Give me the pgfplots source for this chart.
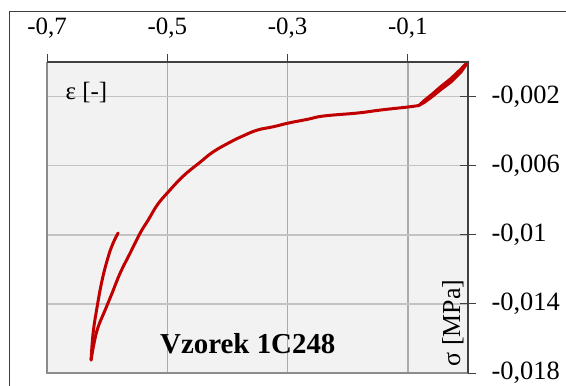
\documentclass[border=0pt]{standalone}
\usepackage{pgfplots}
\pgfplotsset{compat=1.18}
\usepackage{fontspec}
\setmainfont{Liberation Serif}
\definecolor{curve}{HTML}{C00000}
\definecolor{plotbg}{HTML}{F2F2F2}
\definecolor{vgrid}{HTML}{ABABAB}
\definecolor{hgrid}{HTML}{C3C3C3}
\definecolor{frame}{HTML}{404040}
\definecolor{lborder}{HTML}{8C8C8C}
\begin{document}
\begin{tikzpicture}[x=1bp,y=1bp]
\useasboundingbox (0,0) rectangle (566,385);
\draw[color=frame, line width=1bp] (9,373) rectangle (620,-30);
\begin{axis}[
  name=ax,
  at={(47bp,12bp)}, anchor=south west,
  scale only axis, width=421bp, height=311bp,
  xmin=-0.7, xmax=0, ymin=-0.018, ymax=0,
  scaled ticks=false,
  axis line style={draw=none},
  axis background/.style={fill=plotbg},
  xtick={-0.7,-0.5,-0.3,-0.1},
  xticklabels={{-0,7},{-0,5},{-0,3},{-0,1}},
  ytick={-0.002,-0.006,-0.01,-0.014,-0.018},
  yticklabels={{-0,002},{-0,006},{-0,01},{-0,014},{-0,018}},
  xtick pos=upper, xticklabel pos=upper,
  ytick pos=right, yticklabel pos=right,
  tick align=outside, major tick length=8bp,
  tick style={color=frame, line width=1bp},
  xmajorgrids, ymajorgrids,
  x grid style={color=vgrid, line width=1.5bp},
  y grid style={color=hgrid, line width=1.5bp},
  xticklabel style={font=\fontsize{25}{25}\selectfont, text=black, yshift=12bp},
  yticklabel style={font=\fontsize{26.5}{26.5}\selectfont, text=black, xshift=12bp},
  extra y ticks={-0.002,-0.006,-0.01,-0.014,-0.018},
  extra y tick labels={},
  extra y tick style={grid=none, tick align=inside},
  clip=false,
]
% loading/unloading loop near origin
\addplot[color=curve, line width=3bp, line join=round, line cap=round] coordinates {
(0,0) (-0.0117,-0.000579) (-0.0283,-0.001158) (-0.045,-0.001592) (-0.0583,-0.001968) (-0.0717,-0.002315) (-0.0817,-0.002518)
(-0.0717,-0.002199) (-0.0583,-0.001823) (-0.045,-0.001418) (-0.0283,-0.000955) (-0.0117,-0.000405) (-0.0017,-0.000029)
(-0.0117,-0.000579) (-0.0283,-0.001158) (-0.045,-0.001592) (-0.0583,-0.001968) (-0.0717,-0.002315) (-0.0817,-0.002518)
};
% main loading branch
\addplot[color=curve, line width=3bp, line join=round, line cap=round, smooth, tension=0.7] coordinates {
(-0.0817,-0.002518) (-0.1,-0.002605) (-0.145,-0.002778) (-0.1833,-0.002952) (-0.24,-0.003125) (-0.2667,-0.003317)
(-0.2983,-0.003531) (-0.3233,-0.003745) (-0.35,-0.003936) (-0.3733,-0.004266) (-0.395,-0.00463) (-0.4233,-0.005192)
(-0.445,-0.005788) (-0.4733,-0.006598) (-0.5,-0.007582) (-0.5167,-0.008277) (-0.5317,-0.009145)
(-0.545,-0.009897) (-0.5617,-0.011055) (-0.5783,-0.012213) (-0.5917,-0.01337) (-0.6033,-0.014354) (-0.615,-0.015338)
(-0.6217,-0.016264) (-0.6267,-0.017248)
};
% final unloading branch
\addplot[color=curve, line width=3bp, line join=round, line cap=round, smooth, tension=0.7] coordinates {
(-0.6267,-0.017248) (-0.6233,-0.015685) (-0.6167,-0.01418) (-0.6083,-0.012618) (-0.5983,-0.011286) (-0.59,-0.010476) (-0.5817,-0.009897)
};
\node[anchor=base west, font=\fontsize{25}{25}\selectfont] at (rel axis cs:0.036,0.878) {ε [-]};
\node[rotate=90, font=\fontsize{26}{26}\selectfont] at (rel axis cs:0.964,0.161) {σ [MPa]};
\node[anchor=base, font=\bfseries\fontsize{29}{29}\selectfont] at (rel axis cs:0.477,0.0627) {Vzorek 1C248};
\end{axis}
\draw[color=lborder, line width=2bp] (ax.north west) -- (ax.south west) -- (ax.south east);
\draw[color=frame, line width=1.2bp] (ax.north west) -- (ax.north east) -- (ax.south east);
\end{tikzpicture}
\end{document}
